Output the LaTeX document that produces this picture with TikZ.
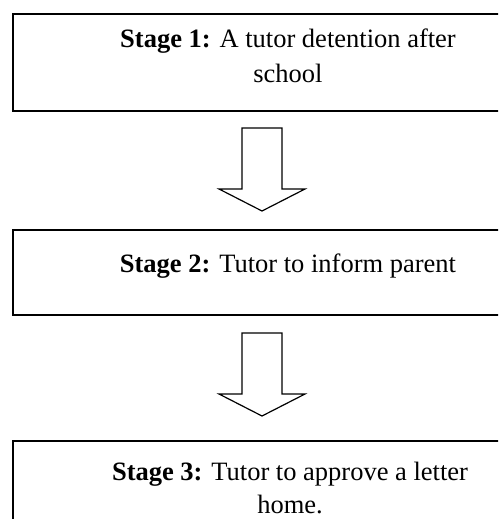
\documentclass[tikz,border=0pt]{standalone}
\usepackage{fontspec}
\setmainfont{Liberation Serif}
\tikzset{
  stagebox/.style={draw=black, line width=1.6pt, minimum width=520pt, inner sep=0pt, anchor=north west},
  stagetext/.style={font=\fontsize{26.5}{32}\selectfont, anchor=base, inner sep=0pt},
  blockdown/.pic={
    \draw[draw=black, line width=1.2pt, fill=white, line join=miter]
      (-20,0) -- (20,0) -- (20,61) -- (43,61) -- (0,83) -- (-43,61) -- (-20,61) -- cycle;
  }
}
\begin{document}
\begin{tikzpicture}[x=1pt,y=-1pt]
\useasboundingbox (0,0) rectangle (498,519);
\clip (0,0) rectangle (498,519);
\node[stagebox, minimum height=97pt] (s1) at (12,13) {};
\node[stagebox, minimum height=85pt] (s2) at (12,229) {};
\node[stagebox, minimum height=120pt] (s3) at (12,440) {};
\node[stagetext] (t1a) at (288,48) {\textbf{Stage 1:} A tutor detention after};
\node[stagetext] (t1b) at (288,82) {school};
\node[stagetext] (t2) at (288,272) {\textbf{Stage 2:} Tutor to inform parent};
\node[stagetext] (t3a) at (290,480) {\textbf{Stage 3:} Tutor to approve a letter};
\node[stagetext] (t3b) at (290,513) {home.};
\pic at (262,128) {blockdown};
\pic at (262,333) {blockdown};
\end{tikzpicture}
\end{document}
